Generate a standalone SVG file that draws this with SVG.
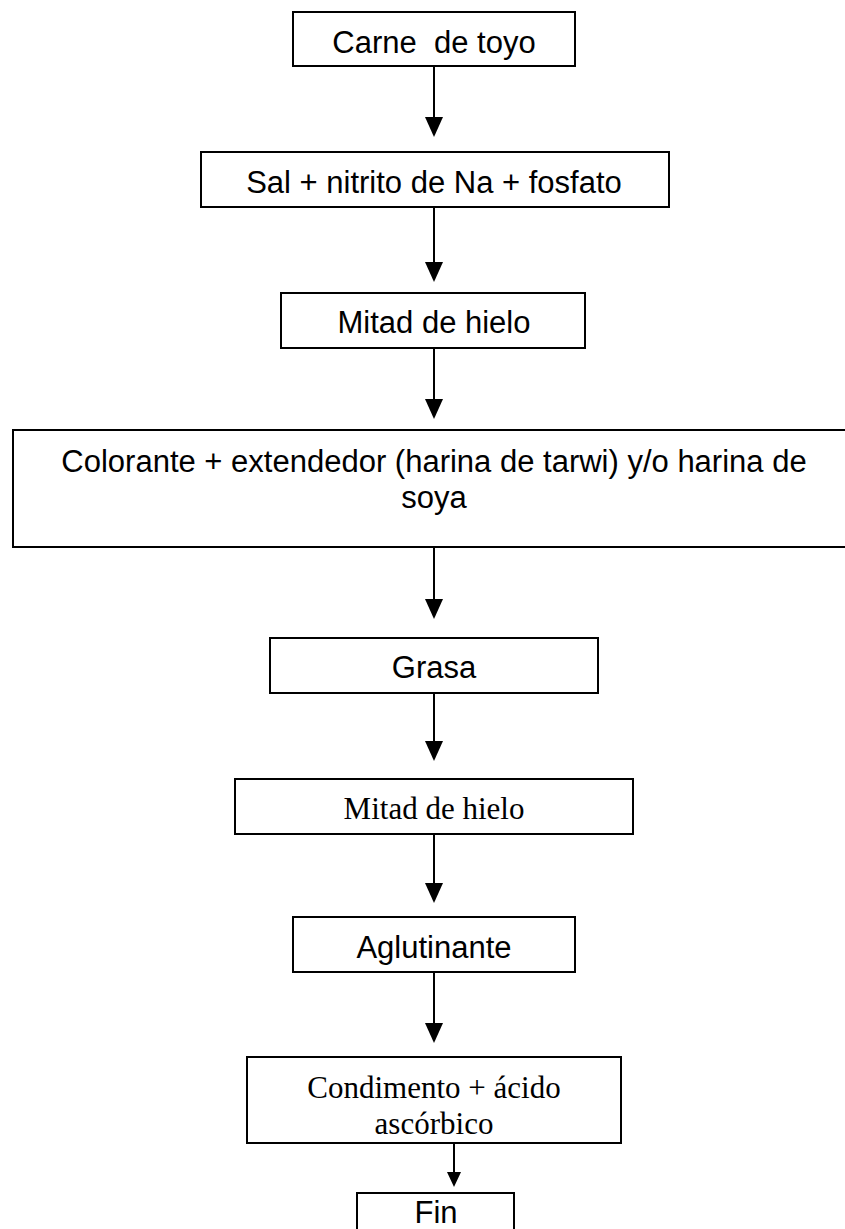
<svg xmlns="http://www.w3.org/2000/svg" width="845" height="1229" viewBox="0 0 845 1229">
<style>
.box{fill:#fff;stroke:#000;stroke-width:2}
.s{font-family:"Liberation Sans",Arial,sans-serif;font-size:31px;fill:#000;text-anchor:middle;white-space:pre}
.r{font-family:"Liberation Serif","Times New Roman",serif;font-size:31px;fill:#000;text-anchor:middle}
.c{stroke:#000;stroke-width:2;fill:none}
</style>
<defs>
<marker id="ah" viewBox="0 0 20 18" refX="10" refY="9" markerWidth="20" markerHeight="18" markerUnits="userSpaceOnUse" orient="auto"><path d="M0,0 L20,9 L0,18 Z" fill="#000"/></marker>
<marker id="ahs" viewBox="0 0 15 14" refX="7" refY="7" markerWidth="15" markerHeight="14" markerUnits="userSpaceOnUse" orient="auto"><path d="M0,0 L15,7 L0,14 Z" fill="#000"/></marker>
</defs>
<rect width="845" height="1229" fill="#fff"/>
<g id="connectors">
<path class="c" d="M434,66 V127" marker-end="url(#ah)"/>
<path class="c" d="M434,207 V272" marker-end="url(#ah)"/>
<path class="c" d="M434,348 V409" marker-end="url(#ah)"/>
<path class="c" d="M434,547 V609" marker-end="url(#ah)"/>
<path class="c" d="M434,693 V751" marker-end="url(#ah)"/>
<path class="c" d="M434,834 V893" marker-end="url(#ah)"/>
<path class="c" d="M434,972 V1033" marker-end="url(#ah)"/>
<path class="c" d="M454,1143 V1179" marker-end="url(#ahs)"/>
</g>
<g id="n1"><rect class="box" x="293" y="12" width="282" height="54"/><text class="s" x="434" y="53">Carne  de toyo</text></g>
<g id="n2"><rect class="box" x="201" y="152" width="468" height="55"/><text class="s" x="434" y="193">Sal + nitrito de Na + fosfato</text></g>
<g id="n3"><rect class="box" x="281" y="293" width="304" height="55"/><text class="s" x="434" y="333">Mitad de hielo</text></g>
<g id="n4"><rect class="box" x="13" y="430" width="845" height="117"/><text class="s" x="434" y="472">Colorante + extendedor (harina de tarwi) y/o harina de</text><text class="s" x="434" y="508">soya</text></g>
<g id="n5"><rect class="box" x="270" y="638" width="328" height="55"/><text class="s" x="434" y="678">Grasa</text></g>
<g id="n6"><rect class="box" x="235" y="779" width="398" height="55"/><text class="r" x="434" y="819">Mitad de hielo</text></g>
<g id="n7"><rect class="box" x="293" y="917" width="282" height="55"/><text class="s" x="434" y="958">Aglutinante</text></g>
<g id="n8"><rect class="box" x="247" y="1057" width="374" height="86"/><text class="r" x="434" y="1098">Condimento + ácido</text><text class="r" x="434" y="1134">ascórbico</text></g>
<g id="n9"><rect class="box" x="357" y="1193" width="157" height="50"/><text class="s" x="436" y="1223">Fin</text></g>
</svg>
